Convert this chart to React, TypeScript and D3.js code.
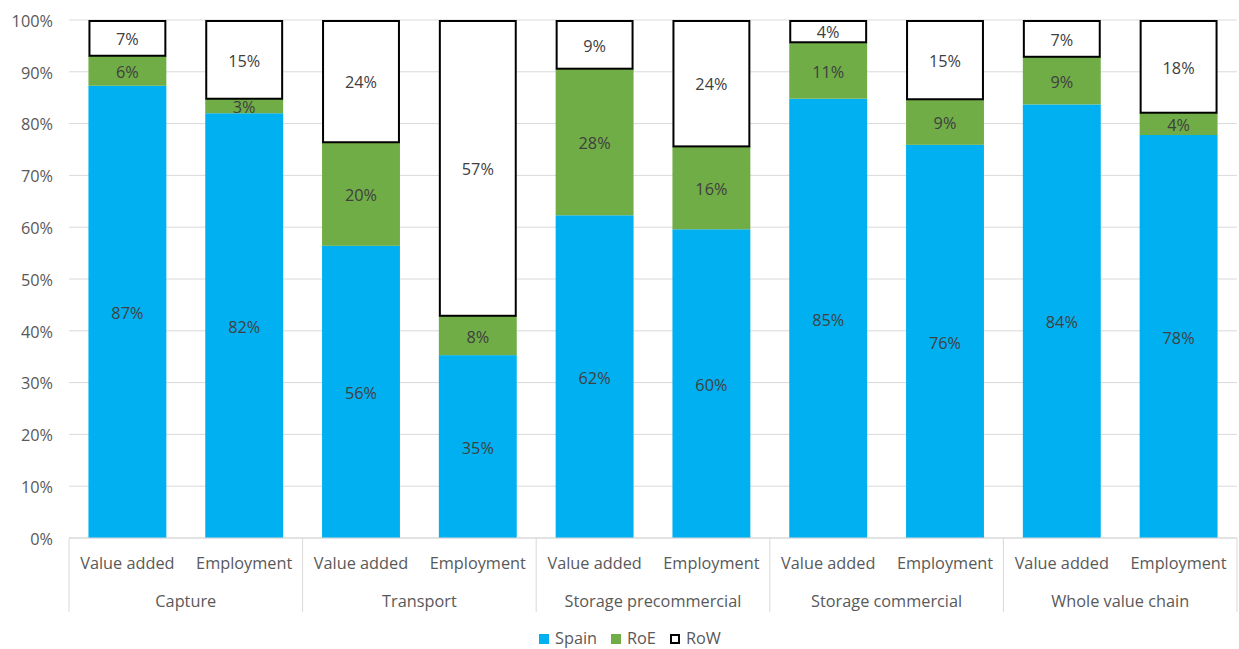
import React from "react";
import * as d3 from "d3";

const groups = ["Capture", "Transport", "Storage precommercial", "Storage commercial", "Whole value chain"];
const subCategories = ["Value added", "Employment"];
const spain = [87.3, 82.0, 56.4, 35.3, 62.3, 59.6, 84.8, 75.9, 83.7, 77.8];
const roe = [5.8, 2.8, 20.0, 7.6, 28.3, 16.0, 10.9, 8.8, 9.2, 4.3];
const row = [6.9, 15.2, 23.6, 57.1, 9.4, 24.4, 4.3, 15.3, 7.1, 17.9];
const yTicks = [0, 10, 20, 30, 40, 50, 60, 70, 80, 90, 100];
const seriesNames = ["Spain", "RoE", "RoW"];

const W = 1239;
const H = 649;
const M = { left: 69, right: 1237, top: 20, bottom: 538 };
const FONT = "'Open Sans', sans-serif";
const FS = 16.3;
const TXT = "#595959";
const LBL = "#404040";
const COLORS = ["#00B0F0", "#70AD47", "#FFFFFF"];

export default function App() {
  const bars = groups.flatMap((g, gi) => subCategories.map((s, si) => ({ key: `${gi}-${si}`, group: g, sub: s, i: gi * 2 + si })));
  const x = d3.scaleBand<string>().domain(bars.map((b) => b.key)).range([M.left, M.right]).paddingInner(0.333).paddingOuter(0.1665);
  const xg = d3.scaleBand<string>().domain(groups).range([M.left, M.right]);
  const y = d3.scaleLinear().domain([0, 100]).range([M.bottom, M.top]);
  const series = [spain, roe, row];

  return (
    <div style={{ position: "absolute", left: 0, top: 0 }}>
      <svg width={W} height={H} style={{ display: "block", background: "#fff" }}>
        {yTicks.map((t) => (
          <g key={t}>
            <line x1={M.left} x2={M.right} y1={y(t)} y2={y(t)} stroke="#d9d9d9" strokeWidth={1} />
            <text x={53} y={y(t) + 1} dy="0.35em" textAnchor="end" fontFamily={FONT} fontSize={FS} fill={TXT}>
              {t}%
            </text>
          </g>
        ))}
        {bars.map((b) => {
          let acc = 0;
          const bx = x(b.key)!;
          const bw = x.bandwidth();
          return (
            <g key={b.key}>
              {series.map((s, si) => {
                const v = s[b.i];
                const y0 = y(acc);
                const y1 = y(acc + v);
                acc += v;
                const isRow = si === 2;
                return (
                  <g key={si}>
                    <rect
                      x={isRow ? bx + 1 : bx}
                      y={isRow ? y1 + 1 : y1}
                      width={isRow ? bw - 2 : bw}
                      height={isRow ? y0 - y1 - 1 : y0 - y1}
                      fill={COLORS[si]}
                      stroke={isRow ? "#000" : "none"}
                      strokeWidth={isRow ? 2 : 0}
                    />
                    <text x={bx + bw / 2} y={(y0 + y1) / 2 + 1.5} dy="0.35em" textAnchor="middle" fontFamily={FONT} fontSize={FS} fill={LBL}>
                      {Math.round(v)}%
                    </text>
                  </g>
                );
              })}
            </g>
          );
        })}
        <line x1={M.left} x2={M.right} y1={M.bottom} y2={M.bottom} stroke="#d9d9d9" strokeWidth={1} />
        {groups.map((g) => (
          <line key={"sep" + g} x1={xg(g)!} x2={xg(g)!} y1={M.bottom} y2={612} stroke="#d9d9d9" strokeWidth={1} />
        ))}
        <line x1={M.right} x2={M.right} y1={M.bottom} y2={612} stroke="#d9d9d9" strokeWidth={1} />
        {bars.map((b) => (
          <text key={"sub" + b.key} x={x(b.key)! + x.bandwidth() / 2} y={563.5} dy="0.35em" textAnchor="middle" fontFamily={FONT} fontSize={FS} fill={TXT}>
            {b.sub}
          </text>
        ))}
        {groups.map((g) => (
          <text key={"g" + g} x={xg(g)! + xg.bandwidth() / 2} y={601.5} dy="0.35em" textAnchor="middle" fontFamily={FONT} fontSize={FS} fill={TXT}>
            {g}
          </text>
        ))}
        {[
          { x: 539, tx: 555 },
          { x: 611, tx: 627 },
          { x: 670, tx: 686 },
        ].map((l, i) => (
          <g key={"leg" + i}>
            <rect
              x={i === 2 ? l.x + 1 : l.x}
              y={i === 2 ? 635 : 634}
              width={i === 2 ? 8 : 10}
              height={i === 2 ? 8 : 10}
              fill={COLORS[i]}
              stroke={i === 2 ? "#000" : "none"}
              strokeWidth={2}
            />
            <text x={l.tx} y={638.5} dy="0.35em" fontFamily={FONT} fontSize={FS} fill={TXT}>
              {seriesNames[i]}
            </text>
          </g>
        ))}
      </svg>
    </div>
  );
}
